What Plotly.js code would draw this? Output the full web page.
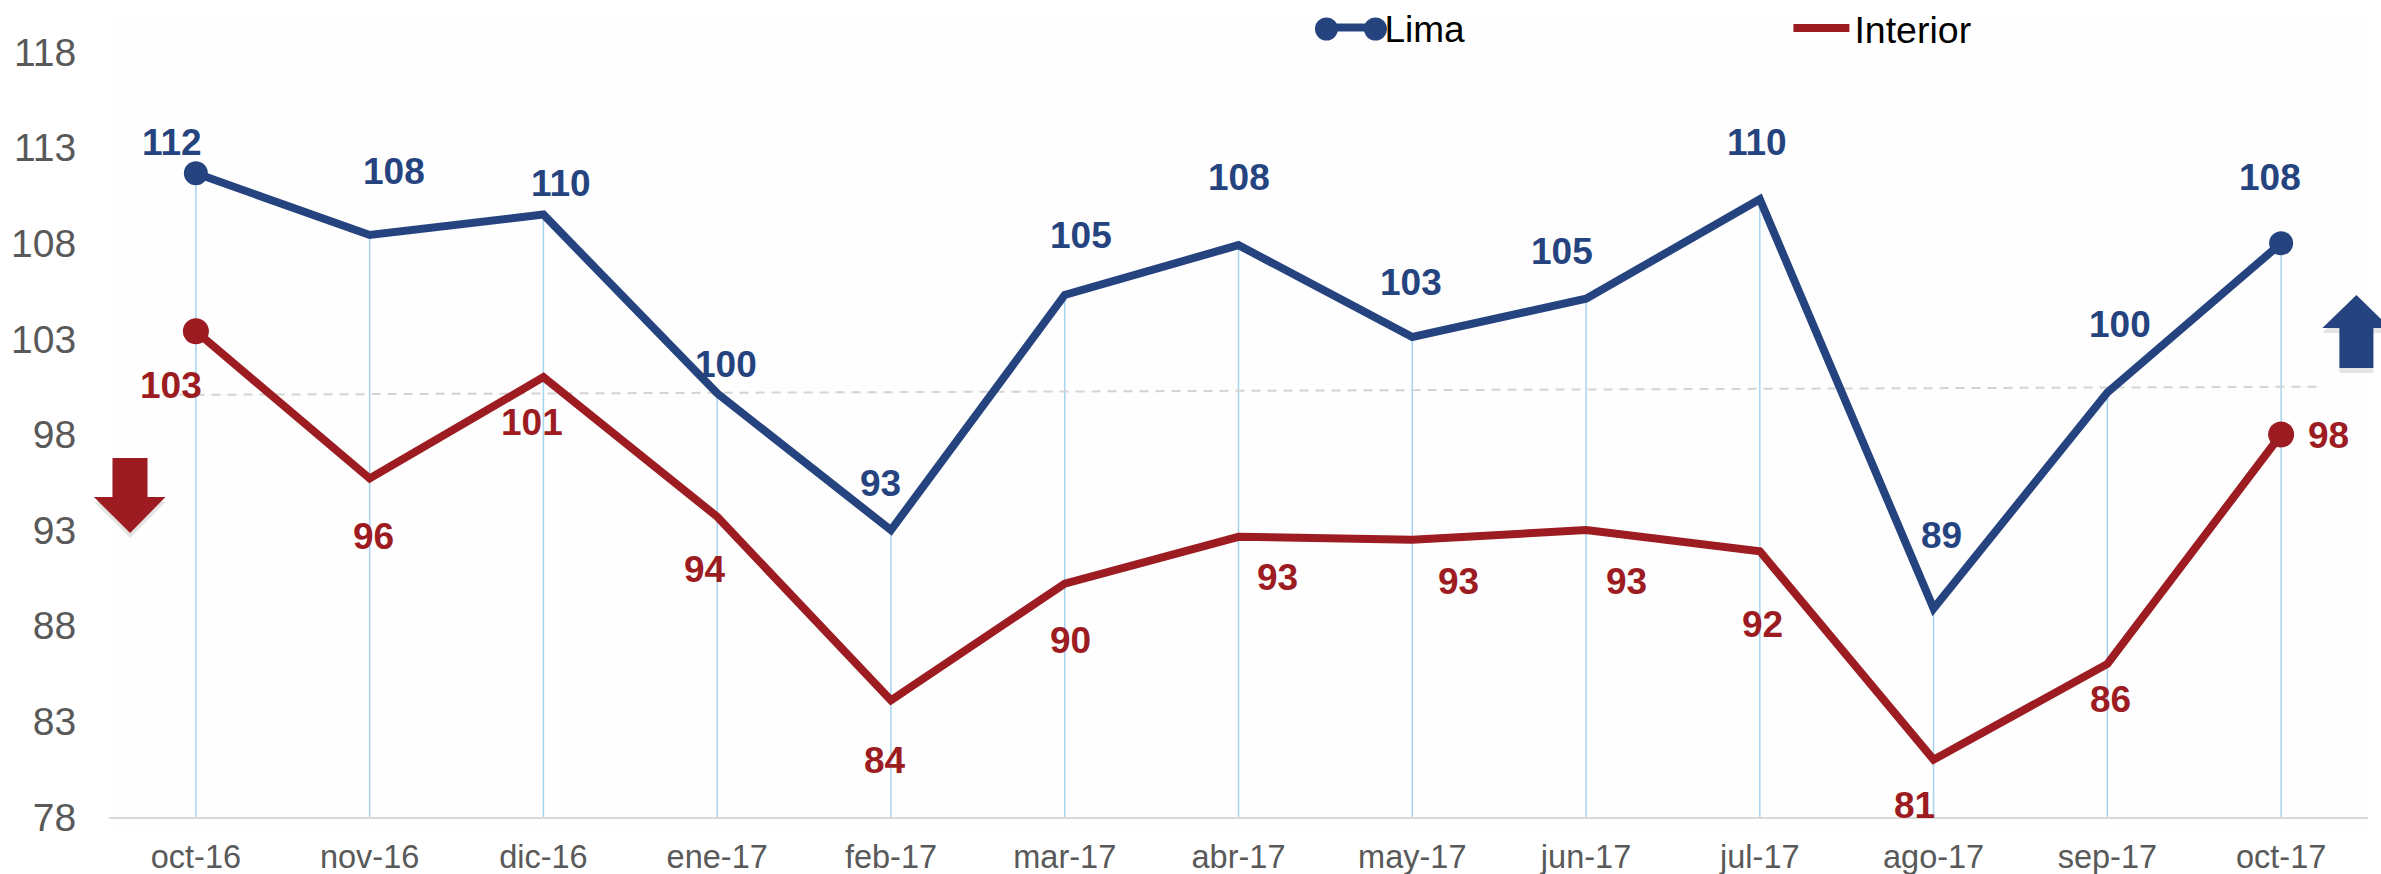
<!DOCTYPE html>
<html>
<head>
<meta charset="utf-8">
<script src="https://cdn.plot.ly/plotly-3.0.1.min.js"></script>
<style>
html,body{margin:0;padding:0;background:#fff}
#chart{width:2381px;height:874px}
.scatterlayer .js-line{stroke-linejoin:miter !important}
</style>
</head>
<body>
<div id="chart"></div>
<script>
const months = ["oct-16","nov-16","dic-16","ene-17","feb-17","mar-17","abr-17","may-17","jun-17","jul-17","ago-17","sep-17","oct-17"];
const limaValues = [111.66,108.43,109.5,100.15,93,105.3,107.9,103.1,105.1,110.3,88.9,100.2,108];
const interiorValues = [103.4,95.7,101,93.7,84.1,90.2,92.65,92.5,93,91.9,81,86,98];
const limaLabels = ["112","108","110","100","93","105","108","103","105","110","89","100","108"];
const interiorLabels = ["103","96","101","94","84","90","93","93","93","92","81","86","98"];
const limaLabelDx = [-24,24,18,9,-10,16,0,-1,-24,-3,8,13,-11];
const limaLabelDy = [31,64,31,29,47,59,68,54,47,57,73,68,66];
const interiorLabelDx = [-25,4,-11,-12,-6,6,39,46,40,3,-19,3,47];
const interiorLabelDy = [-54,-58,-45,-53,-60,-57,-41,-42,-51,-73,-46,-35,-1];
const yTicks = [78,83,88,93,98,103,108,113,118];
const referenceLineX = [-0.186,12.236];
const referenceLineY = [100.07,100.5];
const endPoints = [0,12];

const BLUE = "#25447f", RED = "#9c1c22";
const FONT = "Liberation Sans, Arial, sans-serif";
const W = 2381, H = 874, M = {l:108.5, r:13.4, t:52, b:57, autoexpand:false};
const idx = months.map((_, i) => i);
const px = x => (x - M.l) / (W - M.l - M.r);
const py = y => 1 - (y - M.t) / (H - M.t - M.b);
const poly = pts => "M" + pts.map(p => px(p[0]) + " " + py(p[1])).join(" L") + " Z";

const downArrow = [[112,458],[147,458],[147,497],[165,497],[129.6,533],[93.4,497],[112,497]];
const upArrow = [[2356,295],[2390,328],[2373,328],[2373,368],[2339,368],[2339,328],[2322,328]];
const shiftDown = (pts, d) => pts.map(p => [p[0], p[1] + d]);
const arrowShape = (pts, color) => ({type:"path", xref:"paper", yref:"paper", path:poly(pts), fillcolor:color, line:{width:0}, layer:"above"});

const traces = [
  {x:idx, y:limaValues, mode:"none", showlegend:false, hoverinfo:"skip", type:"scatter",
   error_y:{type:"data", symmetric:false, array:idx.map(()=>0), arrayminus:limaValues.map(v=>v-78), color:"#a6d4ee", thickness:1.5, width:0}},
  {x:referenceLineX, y:referenceLineY, mode:"lines", showlegend:false, hoverinfo:"skip", type:"scatter",
   line:{color:"#d4d4d4", width:2, dash:"9px,7px"}},
  {x:idx, y:limaValues, name:"Lima", mode:"lines", type:"scatter", line:{color:BLUE, width:8}, legend:"legend"},
  {x:idx, y:interiorValues, name:"Interior", mode:"lines", type:"scatter", line:{color:RED, width:8}, legend:"legend2"},
  {x:endPoints, y:endPoints.map(i=>limaValues[i]), mode:"markers", showlegend:false, type:"scatter", marker:{color:BLUE, size:24}},
  {x:endPoints, y:endPoints.map(i=>interiorValues[i]), mode:"markers", showlegend:false, type:"scatter", marker:{color:RED, size:26}}
];

const annotations = [];
months.forEach((m, i) => {
  annotations.push({x:i, y:limaValues[i], text:limaLabels[i], showarrow:false, xshift:limaLabelDx[i], yshift:limaLabelDy[i],
    xanchor:"center", yanchor:"middle", font:{family:FONT, size:37, color:BLUE, weight:700}});
  annotations.push({x:i, y:interiorValues[i], text:interiorLabels[i], showarrow:false, xshift:interiorLabelDx[i], yshift:interiorLabelDy[i],
    xanchor:"center", yanchor:"middle", font:{family:FONT, size:37, color:RED, weight:700}});
});

const layout = {
  width:W, height:H, margin:M, paper_bgcolor:"#fff", plot_bgcolor:"rgba(0,0,0,0)",
  font:{family:FONT},
  xaxis:{range:[-0.5,12.5], tickmode:"array", tickvals:idx, ticktext:months, showgrid:false, zeroline:false,
    showline:true, linecolor:"#d9d9d9", linewidth:2, ticks:"outside", ticklen:10, tickcolor:"rgba(0,0,0,0)",
    tickfont:{family:FONT, size:32.5, color:"#595959"}},
  yaxis:{range:[78,118], tickmode:"array", tickvals:yTicks, ticktext:yTicks.map(String), showgrid:false, zeroline:false, showline:false,
    ticks:"outside", ticklen:24, tickcolor:"rgba(0,0,0,0)",
    tickfont:{family:FONT, size:39, color:"#595959"}},
  legend:{x:px(1321), y:py(28), xanchor:"left", yanchor:"middle", itemwidth:53, font:{family:FONT, size:37, color:"#000"}, bgcolor:"rgba(0,0,0,0)", itemclick:false},
  legend2:{x:px(1788), y:py(28), xanchor:"left", yanchor:"middle", itemwidth:56, font:{family:FONT, size:37.5, color:"#000"}, bgcolor:"rgba(0,0,0,0)", itemclick:false},
  annotations,
  shapes:[
    {type:"rect", xref:"paper", yref:"paper", x0:px(109), x1:px(2367), y0:py(835), y1:py(20), fillcolor:"#fefefe", line:{width:0}, layer:"below"},
    {type:"circle", xref:"paper", yref:"paper", x0:px(1326-11.5), x1:px(1326+11.5), y0:py(29+11.5), y1:py(29-11.5), fillcolor:BLUE, line:{width:0}, layer:"above"},
    {type:"circle", xref:"paper", yref:"paper", x0:px(1375-11.5), x1:px(1375+11.5), y0:py(29+11.5), y1:py(29-11.5), fillcolor:BLUE, line:{width:0}, layer:"above"},
    arrowShape(shiftDown(downArrow,5), "rgba(0,0,0,0.10)"),
    arrowShape(downArrow, RED),
    arrowShape(shiftDown(upArrow,5), "rgba(0,0,0,0.10)"),
    arrowShape(upArrow, BLUE)
  ]
};
Plotly.newPlot("chart", traces, layout, {displayModeBar:false, staticPlot:true});
</script>
</body>
</html>
